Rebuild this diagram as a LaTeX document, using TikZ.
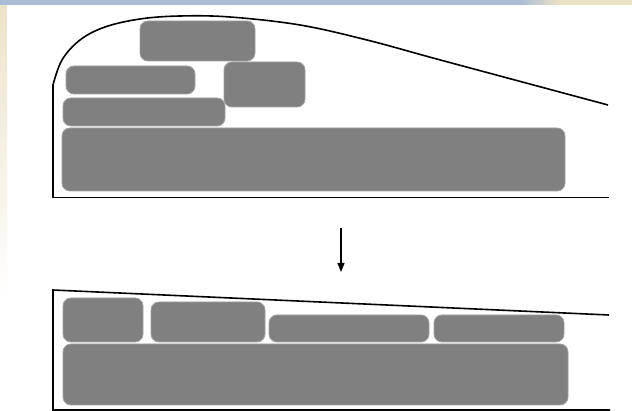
\documentclass[tikz,border=0pt]{standalone}
\usetikzlibrary{arrows.meta}
\definecolor{boxgray}{RGB}{128,128,128}
\definecolor{boxedge}{RGB}{160,160,160}
\definecolor{topblue}{RGB}{171,188,214}
\definecolor{beige}{RGB}{236,226,200}
\tikzset{
  blk/.style={draw=boxedge, line width=0.8pt, fill=boxgray, rounded corners=8pt,
    inner sep=0pt, outer sep=0pt, anchor=north west},
  outline/.style={line width=1.6pt, black},
}
\begin{document}
\begin{tikzpicture}[x=1pt,y=-1pt]
\useasboundingbox (0,0) rectangle (632,411);
% background
\fill[white] (0,0) rectangle (632,411);
\shade[top color=beige, bottom color=white] (0,0) rectangle (7,300);
\fill[topblue] (0,0) rectangle (520,5);
\shade[left color=topblue, right color=beige] (520,0) rectangle (560,5);
\fill[beige] (560,0) rectangle (632,5);
\fill[white] (8,6) rectangle (632,411);

% ---------- top diagram ----------
\draw[outline] plot[smooth, tension=0.6] coordinates
  {(53,85) (62,60) (80,40) (105,27) (140,19) (180,16) (230,17) (300,25) (367,40) (433,58) (500,76) (567,94) (608,105)};
\draw[outline] (53,84) -- (53,197.5) -- (609,197.5);

\node[blk, minimum width=115pt, minimum height=40pt] (a1) at (140,21) {};
\node[blk, minimum width=129pt, minimum height=28pt] (a2) at (66,66) {};
\node[blk, minimum width=81pt, minimum height=45pt] (a3) at (224,62) {};
\node[blk, minimum width=162pt, minimum height=28pt] (a4) at (63,98) {};
\node[blk, minimum width=503pt, minimum height=63pt] (a5) at (62,128) {};

% ---------- arrow ----------
\coordinate (s) at (341,228);
\coordinate (e) at (341,272);
\draw[line width=1.2pt, -{Triangle[width=7pt,length=9pt]}] (s) -- (e);

% ---------- bottom diagram ----------
\draw[outline] (609,315) -- (53,290) -- (53,410) -- (610,410);

\node[blk, minimum width=80pt, minimum height=44pt] (b1) at (63,298) {};
\node[blk, minimum width=114pt, minimum height=40pt] (b2) at (151,302) {};
\node[blk, minimum width=160pt, minimum height=27pt] (b3) at (269,315) {};
\node[blk, minimum width=130pt, minimum height=27pt] (b4) at (434,315) {};
\node[blk, minimum width=505pt, minimum height=61pt] (b5) at (63,344) {};
\end{tikzpicture}
\end{document}
